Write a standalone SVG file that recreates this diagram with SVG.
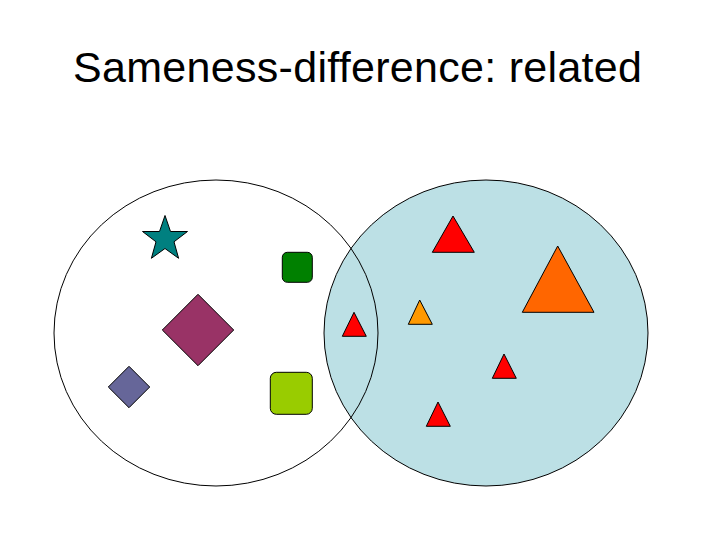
<svg xmlns="http://www.w3.org/2000/svg" width="720" height="540" viewBox="0 0 720 540">
<style>
.title{font-family:"Liberation Sans",Arial,sans-serif;font-size:43px;fill:#000}
.set{stroke:#000;stroke-width:1}
.sh{stroke:#000;stroke-width:1;stroke-linejoin:miter}
.red{fill:#FF0000}
</style>
<rect width="720" height="540" fill="#fff"/>
<text class="title" x="73" y="82" textLength="569" lengthAdjust="spacing">Sameness-difference: related</text>
<g id="set-right"><ellipse class="set" cx="486" cy="333" rx="162" ry="153" fill="#BCE0E5"/></g>
<g id="set-left"><ellipse class="set" cx="216" cy="333" rx="162" ry="153" fill="none"/></g>
<g id="star"><polygon class="sh" fill="#008080" points="165,215.5 170.5,231.5 187.5,231.5 174,241.8 178.6,258.3 165,248.5 151.4,258.3 156,241.8 142.5,231.5 159.5,231.5"/></g>
<g id="green-square"><rect class="sh" fill="#008000" x="282.3" y="252.3" width="30" height="30" rx="5"/></g>
<g id="maroon-diamond"><polygon class="sh" fill="#993366" points="198,294.3 233.7,330 198,365.7 162.3,330"/></g>
<g id="purple-diamond"><polygon class="sh" fill="#666699" points="129,366.3 149.7,387 129,407.7 108.3,387"/></g>
<g id="lime-square"><rect class="sh" fill="#99CC00" x="270.3" y="372.3" width="42" height="42" rx="6"/></g>
<g id="tri-red-top"><polygon class="sh red" points="453,216 474.3,252.3 432.3,252.3"/></g>
<g id="tri-orange-big"><polygon class="sh" fill="#FF6600" points="557.7,246 594,312.3 522.3,312.3"/></g>
<g id="tri-orange-small"><polygon class="sh" fill="#FF9900" points="419.7,300 432.3,324.3 408.3,324.3"/></g>
<g id="tri-red-left"><polygon class="sh red" points="354,312.3 366.3,336.3 342.3,336.3"/></g>
<g id="tri-red-mid"><polygon class="sh red" points="504,354 516.3,378.3 492.3,378.3"/></g>
<g id="tri-red-bottom"><polygon class="sh red" points="438,402 450.3,426.3 426.3,426.3"/></g>
</svg>
